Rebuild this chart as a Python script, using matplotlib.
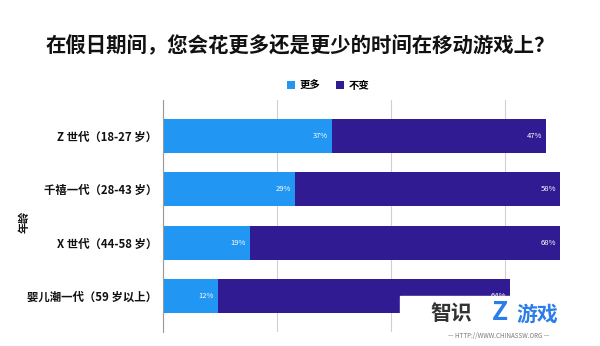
import matplotlib.pyplot as plt
import numpy as np

plt.rcParams['font.family'] = ['Noto Sans CJK SC', 'DejaVu Sans']

categories = ["Z 世代（18-27 岁）", "千禧一代（28-43 岁）", "X 世代（44-58 岁）", "婴儿潮一代（59 岁以上）"]
more = [37, 29, 19, 12]
same = [47, 58, 68, 64]
series_names = ["更多", "不变"]
colors = ["#2196F3", "#311B92"]

fig = plt.figure(figsize=(6, 3.46), dpi=100)
ax = fig.add_axes([163 / 600, 1 - 332 / 346, 1 - 163 / 600, 232 / 346])

ypos = np.arange(len(categories))
b1 = ax.barh(ypos, more, height=0.64, color=colors[0], label=series_names[0], zorder=3)
b2 = ax.barh(ypos, same, left=more, height=0.64, color=colors[1], label=series_names[1], zorder=3)

for i in range(len(categories)):
    ax.text(more[i] - 0.8, ypos[i], f"{more[i]}%", color="white", fontsize=5.5,
            ha="right", va="center", zorder=4)
    ax.text(more[i] + same[i] - 0.8, ypos[i], f"{same[i]}%", color="white", fontsize=5.5,
            ha="right", va="center", zorder=4)

ax.set_xlim(0, 437 / 4.56)
ax.set_ylim(3.67, -0.67)
ax.set_xticks([0, 25, 50, 75])
ax.set_xticklabels([])
ax.tick_params(axis="x", length=0)
ax.tick_params(axis="y", length=0, pad=4)
ax.set_yticks(ypos)
ax.set_yticklabels(categories, fontsize=8.2, color="#111111", fontweight="bold")
ax.grid(axis="x", color="#d0d0d0", linewidth=0.8, zorder=0)
for s in ["top", "right", "bottom"]:
    ax.spines[s].set_visible(False)
ax.spines["left"].set_color("#999999")
ax.spines["left"].set_zorder(5)

fig.text(0.5, 1 - 45 / 346, "在假日期间，您会花更多还是更少的时间在移动游戏上？",
         ha="center", va="center", fontsize=14.7, fontweight="bold", color="#111111")
fig.text(24 / 600, 1 - 222 / 346, "年龄", rotation=90, ha="center", va="center",
         fontsize=8, color="#111111", fontweight="bold")

fig.legend(handles=[b1, b2], labels=series_names, loc="center",
           bbox_to_anchor=(328 / 600, 1 - 86 / 346), ncol=2, frameon=False,
           handlelength=0.8, handleheight=0.8, handletextpad=0.4,
           columnspacing=1.5, prop={"size": 7.5, "weight": "bold"})

# watermark
fig.patches.append(plt.Rectangle((400 / 600, 0), 200 / 600, 1 - 296 / 346,
                                 transform=fig.transFigure, color="white", zorder=10))
fig.text(430 / 600, 1 - 314 / 346, "智识", fontsize=15, fontweight="bold",
         color="#333333", ha="left", va="center", zorder=11)
fig.text(500 / 600, 1 - 313 / 346, "Z", fontsize=19, fontweight="bold", fontstyle="italic",
         color="#2b7de9", ha="center", va="center", zorder=11)
fig.text(516 / 600, 1 - 314 / 346, "游戏", fontsize=15, fontweight="bold",
         color="#2b7de9", ha="left", va="center", zorder=11)
fig.text(499 / 600, 1 - 336 / 346, "— HTTP://WWW.CHINASSW.ORG —", fontsize=4.5,
         color="#777777", ha="center", va="center", zorder=11)

fig.savefig("out.png", dpi=100)
